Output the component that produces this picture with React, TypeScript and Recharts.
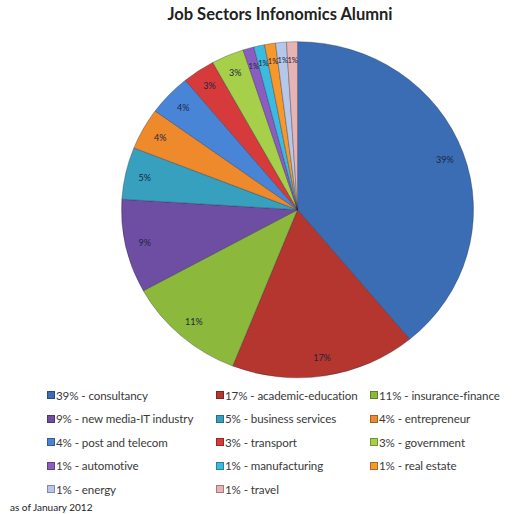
import React from 'react';
import { PieChart, Pie, Cell, Legend } from 'recharts';

const sectors = [
  'consultancy',
  'academic-education',
  'insurance-finance',
  'new media-IT industry',
  'business services',
  'entrepreneur',
  'post and telecom',
  'transport',
  'government',
  'automotive',
  'manufacturing',
  'real estate',
  'energy',
  'travel',
];

const shares = [39, 17, 11, 9, 5, 4, 4, 3, 3, 1, 1, 1, 1, 1];

const colors = [
  '#3a6db4',
  '#b5352f',
  '#8cb83c',
  '#6d4ea2',
  '#37a0bf',
  '#ee8a2b',
  '#4985d6',
  '#d73a3a',
  '#a6d04a',
  '#8a5ec0',
  '#3dbadf',
  '#f7982b',
  '#b5c8ea',
  '#e7b3b3',
];

const title = 'Job Sectors Infonomics Alumni';
const footnote = 'as of January 2012';

const data = sectors.map((name, i) => ({ name, value: shares[i] }));

const RADIAN = Math.PI / 180;

const renderLabel = (props: any) => {
  const { cx, cy, midAngle, outerRadius, value } = props;
  const r = outerRadius * 0.89;
  const x = cx + r * Math.cos(-midAngle * RADIAN);
  const y = cy + r * Math.sin(-midAngle * RADIAN);
  return (
    <text
      x={x}
      y={y}
      textAnchor="middle"
      dominantBaseline="central"
      fontSize={value < 2 ? 7.5 : 9}
      fontFamily="Lato, 'DejaVu Sans', sans-serif"
      fill="#1d2640"
    >
      {value}%
    </text>
  );
};

const colLefts = [47, 216, 370];
const rowTop = 386;
const rowStep = 23.5;

const renderLegend = () => (
  <div style={{ position: 'relative', width: 520, height: 120 }}>
    {data.map((d, i) => {
      const col = i % 3;
      const row = Math.floor(i / 3);
      return (
        <div
          key={d.name}
          style={{
            position: 'absolute',
            left: colLefts[col],
            top: row * rowStep,
            height: 18,
            display: 'flex',
            alignItems: 'center',
            whiteSpace: 'nowrap',
            fontFamily: "Lato, 'Open Sans', sans-serif",
            fontSize: 11.6,
            letterSpacing: -0.1,
            color: '#3a3a3a',
          }}
        >
          <span
            style={{
              display: 'inline-block',
              width: 6,
              height: 6,
              marginRight: 1,
              background: colors[i],
              border: '0.5px solid rgba(0,0,0,0.3)',
            }}
          />
          {`${d.value}% - ${d.name}`}
        </div>
      );
    })}
  </div>
);

export default function App() {
  return (
    <div
      style={{
        position: 'absolute',
        left: 0,
        top: 0,
        width: 520,
        height: 514,
        background: '#fff',
        overflow: 'hidden',
      }}
    >
      <style>{`.pie-wrap .recharts-surface { transform: scaleY(0.955); transform-origin: 292.5px 205px; }`}</style>
      <div
        style={{
          position: 'absolute',
          left: 0,
          width: 560,
          top: 4,
          textAlign: 'center',
          fontFamily: "Lato, 'Open Sans', sans-serif",
          fontWeight: 700,
          fontSize: 16.5,
          color: '#222',
        }}
      >
        {title}
      </div>
      <div className="pie-wrap" style={{ position: 'absolute', left: 0, top: 0 }}>
        <PieChart width={520} height={514}>
          <Pie
            data={data}
            dataKey="value"
            nameKey="name"
            cx={292.5}
            cy={205}
            outerRadius={176}
            startAngle={90}
            endAngle={-270}
            label={renderLabel}
            labelLine={false}
            isAnimationActive={false}
            stroke="rgba(40,40,60,0.35)"
            strokeWidth={1}
          >
            {data.map((d, i) => (
              <Cell key={d.name} fill={colors[i]} />
            ))}
          </Pie>
          <Legend
            content={renderLegend}
            wrapperStyle={{ position: 'absolute', left: 0, top: rowTop, width: 520 }}
          />
        </PieChart>
      </div>
      <div
        style={{
          position: 'absolute',
          left: 10,
          top: 501,
          fontFamily: "Lato, 'Open Sans', sans-serif",
          fontSize: 10,
          color: '#222',
        }}
      >
        {footnote}
      </div>
    </div>
  );
}
